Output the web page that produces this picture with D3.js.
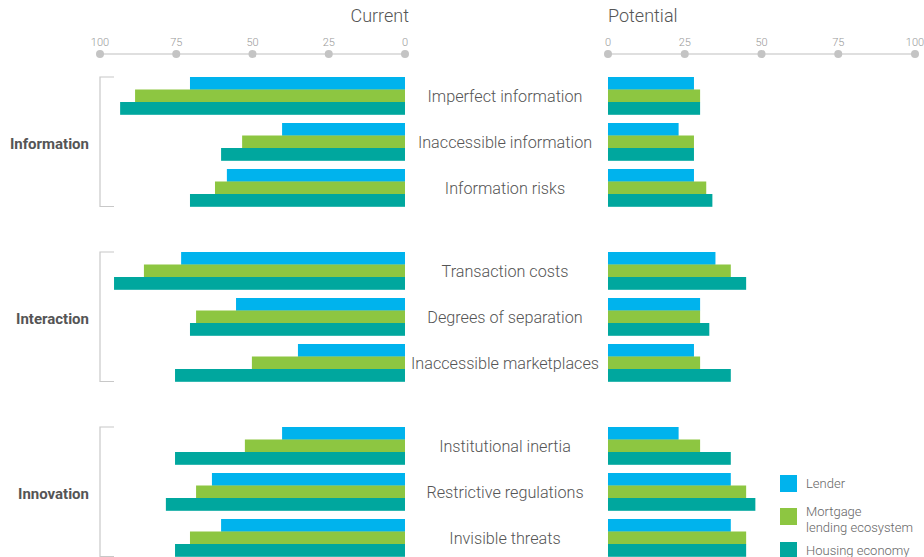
<!DOCTYPE html>
<html><head><meta charset="utf-8">
<script src="https://cdn.jsdelivr.net/npm/d3@7"></script>
<style>body{margin:0;background:#fff}svg{display:block}</style>
</head><body><svg id="c" width="924" height="557"></svg>
<script>
const categories = ["Imperfect information","Inaccessible information","Information risks",
  "Transaction costs","Degrees of separation","Inaccessible marketplaces",
  "Institutional inertia","Restrictive regulations","Invisible threats"];
const groups = ["Information","Interaction","Innovation"];
const groupOf = [0,0,0,1,1,1,2,2,2];
const seriesNames = ["Lender","Mortgage lending ecosystem","Housing economy"];
const currentLender   = [70.5, 40.3, 58.4, 73.4, 55.4, 35.1, 40.3, 63.3, 60.3];
const currentMortgage = [88.5, 53.4, 62.3, 85.6, 68.5, 50.2, 52.5, 68.5, 70.5];
const currentHousing  = [93.4, 60.3, 70.5, 95.4, 70.5, 75.4, 75.4, 78.4, 75.4];
const potentialLender   = [28, 23, 28, 35, 30, 28, 23, 40, 40];
const potentialMortgage = [30, 28, 32, 40, 30, 30, 30, 45, 45];
const potentialHousing  = [30, 28, 34, 45, 33, 40, 40, 48, 45];
const tickValues = [0, 25, 50, 75, 100];
const colors = ["#00b3ed", "#8dc641", "#00a79e"];

const svg = d3.select("#c");
const font = "Roboto, 'Liberation Sans', Arial, sans-serif";

const xL = d3.scaleLinear().domain([0,100]).range([405,100]);
const xR = d3.scaleLinear().domain([0,100]).range([608,915]);
const gapSlots = 37/46;
const slot = i => i + groupOf[i]*gapSlots;
const y = d3.scaleLinear().domain([0,1]).range([77,123]);
const barH = 12.5;

const cur = [currentLender,currentMortgage,currentHousing];
const pot = [potentialLender,potentialMortgage,potentialHousing];

// titles
svg.append("text").attr("x",409).attr("y",22).attr("text-anchor","end")
  .attr("font-family",font).attr("font-size",18).attr("font-weight",300).attr("fill","#555").text("Current");
svg.append("text").attr("x",608).attr("y",22).attr("text-anchor","start")
  .attr("font-family",font).attr("font-size",18).attr("font-weight",300).attr("fill","#555").text("Potential");

// axes
function drawAxis(scale){
  const g = svg.append("g");
  const r = scale.range();
  g.append("line").attr("x1",Math.min(...r)).attr("x2",Math.max(...r)).attr("y1",54).attr("y2",54)
    .attr("stroke","#d4d4d4").attr("stroke-width",1.5);
  g.selectAll("circle").data(tickValues).join("circle")
    .attr("cx",d=>scale(d)).attr("cy",54).attr("r",4).attr("fill","#c4c4c4");
  g.selectAll("text").data(tickValues).join("text")
    .attr("x",d=>scale(d)).attr("y",46).attr("text-anchor","middle")
    .attr("font-family",font).attr("font-size",11).attr("font-weight",300).attr("fill","#999").text(d=>d);
}
drawAxis(xL);
drawAxis(xR);

// bars
seriesNames.forEach((s,j)=>{
  svg.append("g").selectAll("rect").data(categories).join("rect")
    .attr("x",(d,i)=>xL(cur[j][i])).attr("width",(d,i)=>xL(0)-xL(cur[j][i]))
    .attr("y",(d,i)=>y(slot(i))+j*barH).attr("height",barH+0.3).attr("fill",colors[j]);
  svg.append("g").selectAll("rect").data(categories).join("rect")
    .attr("x",xR(0)).attr("width",(d,i)=>xR(pot[j][i])-xR(0))
    .attr("y",(d,i)=>y(slot(i))+j*barH).attr("height",barH+0.3).attr("fill",colors[j]);
});

// category labels
svg.append("g").selectAll("text").data(categories).join("text")
  .attr("x",505).attr("y",(d,i)=>y(slot(i))+19).attr("dy","0.35em").attr("text-anchor","middle")
  .attr("font-family",font).attr("font-size",16.2).attr("font-weight",300).attr("fill","#555").text(d=>d);

// group brackets and labels
groups.forEach((gname,g)=>{
  const idx = categories.map((c,i)=>i).filter(i=>groupOf[i]===g);
  const top = y(slot(idx[0])), bot = y(slot(idx[idx.length-1]))+3*barH;
  svg.append("path").attr("d",`M114,${top}H100V${bot}H114`).attr("fill","none")
    .attr("stroke","#c8c8c8").attr("stroke-width",1.2);
  svg.append("text").attr("x",89).attr("y",(top+bot)/2+1.5).attr("dy","0.35em").attr("text-anchor","end")
    .attr("font-family",font).attr("font-size",15).attr("font-weight",700).attr("fill","#555").text(gname);
});

// legend
const legendY = [475, 508, 542];
const legendLines = [["Lender"],["Mortgage","lending ecosystem"],["Housing economy"]];
seriesNames.forEach((s,j)=>{
  svg.append("rect").attr("x",780).attr("y",legendY[j]).attr("width",17).attr("height",17).attr("fill",colors[j]);
  const t = svg.append("text").attr("font-family",font).attr("font-size",13).attr("font-weight",300).attr("fill","#666");
  const lines = legendLines[j];
  const startY = j===1 ? legendY[j]+3 : legendY[j]+8.5;
  lines.forEach((ln,k)=>{
    t.append("tspan").attr("x",806).attr("y",startY+k*16).attr("dy","0.35em").text(ln);
  });
});
</script></body></html>
